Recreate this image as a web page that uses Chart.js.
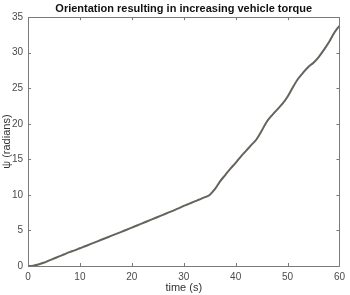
<!DOCTYPE html>
<html>
<head>
<meta charset="utf-8">
<script src="https://cdn.jsdelivr.net/npm/chart.js@4.4.0/dist/chart.umd.min.js"></script>
<style>
html,body{margin:0;padding:0;background:#fff;}
#wrap{width:350px;height:295px;}
</style>
</head>
<body>
<div id="wrap"><canvas id="c" width="350" height="295"></canvas></div>
<script>
const timeS = [0,1,2,3,4,5,6,7,8,9,10,11,12,13,14,15,16,17,18,19,20,21,22,23,24,25,26,27,28,29,30,31,32,33,34,35,36,37,38,39,40,41,42,43,44,45,46,47,48,49,50,51,52,53,54,55,56,57,58,59,60];
const psiRad = [0,0.05,0.2,0.45,0.75,1.05,1.35,1.65,1.95,2.2,2.5,2.78,3.07,3.36,3.65,3.94,4.23,4.52,4.81,5.1,5.4,5.7,6.0,6.3,6.6,6.9,7.2,7.5,7.8,8.1,8.45,8.75,9.05,9.35,9.65,10.0,10.8,11.9,12.8,13.7,14.5,15.4,16.2,17.0,17.8,19.0,20.3,21.2,22.0,22.8,23.8,25.1,26.3,27.2,28.0,28.6,29.4,30.4,31.5,32.8,33.8];
const xTicks = [0,10,20,30,40,50,60];
const yTicks = [0,5,10,15,20,25,30,35];
const titleText = 'Orientation resulting in increasing vehicle torque';
const xTitle = 'time (s)';
const yTitle = 'ψ (radians)';

const FONT = "'Liberation Sans', Arial, Helvetica, sans-serif";
const boxPlugin = {
  id: 'boxPlugin',
  afterDatasetsDraw(chart) {
    const ctx = chart.ctx, a = chart.chartArea;
    const xs = chart.scales.x, ys = chart.scales.y;
    ctx.save();
    ctx.strokeStyle = '#7a7a7a';
    ctx.lineWidth = 1;
    ctx.beginPath();
    ctx.rect(Math.round(a.left)+0.5, Math.round(a.top)+0.5, Math.round(a.right-a.left), Math.round(a.bottom-a.top));
    ctx.stroke();
    ctx.beginPath();
    const tl = 3;
    xTicks.forEach(v => {
      const px = Math.round(xs.getPixelForValue(v)) + 0.5;
      ctx.moveTo(px, a.bottom); ctx.lineTo(px, a.bottom - tl);
      ctx.moveTo(px, a.top); ctx.lineTo(px, a.top + tl);
    });
    yTicks.forEach(v => {
      const py = Math.round(ys.getPixelForValue(v)) + 0.5;
      ctx.moveTo(a.left, py); ctx.lineTo(a.left + tl, py);
      ctx.moveTo(a.right, py); ctx.lineTo(a.right - tl, py);
    });
    ctx.stroke();
    ctx.restore();
  }
};

new Chart(document.getElementById('c'), {
  type: 'line',
  data: {
    datasets: [{
      data: timeS.map((t, i) => ({x: t, y: psiRad[i]})),
      borderColor: '#66625c',
      borderWidth: 2,
      pointRadius: 0,
      tension: 0.3,
      fill: false
    }]
  },
  options: {
    responsive: false,
    animation: false,
    layout: {padding: {left: 0, right: 8, top: 0, bottom: 0}},
    plugins: {
      legend: {display: false},
      tooltip: {enabled: false},
      title: {
        display: true,
        fullSize: false,
        text: titleText,
        color: '#111',
        font: {family: FONT, size: 11, weight: 'bold', lineHeight: 1.2},
        padding: {top: 2, bottom: 2}
      }
    },
    scales: {
      x: {
        type: 'linear',
        min: 0, max: 60,
        afterFit: s => { s.height = 29; },
        afterBuildTicks: s => { s.ticks = xTicks.map(v => ({value: v})); },
        grid: {display: false, drawTicks: false},
        border: {display: false},
        ticks: {color: '#4a4a4a', font: {family: FONT, size: 10}, padding: 5, maxRotation: 0},
        title: {display: true, text: xTitle, color: '#333', font: {family: FONT, size: 11}, padding: {top: 0, bottom: 0}}
      },
      y: {
        type: 'linear',
        min: 0, max: 35,
        afterFit: s => { s.width = 28; },
        afterBuildTicks: s => { s.ticks = yTicks.map(v => ({value: v})); },
        grid: {display: false, drawTicks: false},
        border: {display: false},
        ticks: {color: '#4a4a4a', font: {family: FONT, size: 10}, padding: 5},
        title: {display: true, text: yTitle, color: '#333', font: {family: FONT, size: 11}, padding: {top: 0, bottom: 0}}
      }
    }
  },
  plugins: [boxPlugin]
});
</script>
</body>
</html>
